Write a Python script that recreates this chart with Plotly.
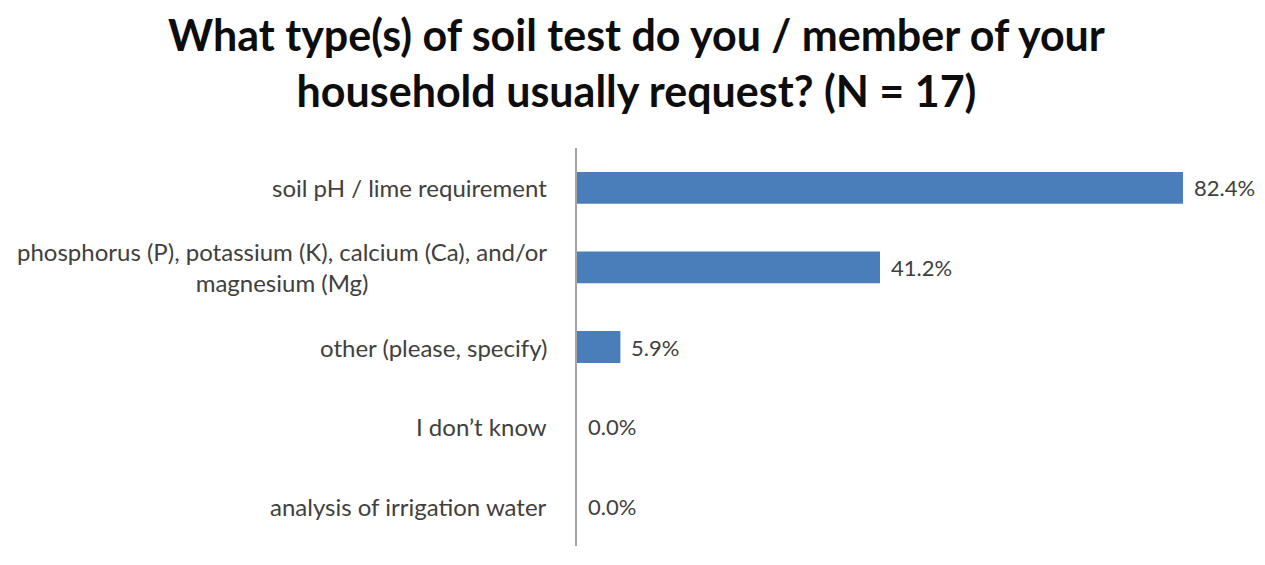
import plotly.graph_objects as go

categories = [
    "soil pH / lime requirement",
    "phosphorus (P), potassium (K), calcium (Ca), and/or<br>magnesium (Mg)",
    "other (please, specify)",
    "I don\u2019t know",
    "analysis of irrigation water",
]
values = [82.4, 41.2, 5.9, 0.0, 0.0]
value_labels = ["82.4%", "41.2%", "5.9%", "0.0%", "0.0%"]
title_text = "What type(s) of soil test do you / member of your<br>household usually request? (N = 17)"

FONT = "Lato"
fig = go.Figure()
fig.add_trace(go.Bar(
    y=categories, x=values, orientation="h",
    marker=dict(color="#4a7ebb", line=dict(width=0)),
    width=0.4,
))

for c in categories:
    fig.add_annotation(
        x=0, xref="paper", y=c, yref="y", xanchor="right", yanchor="middle",
        xshift=-28, text=c, showarrow=False, align="center",
        font=dict(family=FONT, size=24, color="#404040"),
    )

for c, v, t in zip(categories, values, value_labels):
    fig.add_annotation(
        x=v, xref="x", y=c, yref="y", xanchor="left", yanchor="middle",
        xshift=9, text=t, showarrow=False,
        font=dict(family=FONT, size=22, color="#404040"),
    )

fig.update_layout(
    width=1257, height=557,
    paper_bgcolor="white", plot_bgcolor="white",
    margin=dict(l=569, r=0, t=140, b=19),
    showlegend=False,
    title=dict(text=title_text, x=0.5, xanchor="center", y=0.923, yanchor="middle",
               font=dict(family=FONT, size=43, color="#0d0d0d", weight="bold")),
    xaxis=dict(range=[0, 93.55], visible=False),
    yaxis=dict(autorange="reversed", showticklabels=False, showgrid=False,
               showline=True, linecolor="#a6a6a6", linewidth=1.5, ticks=""),
    bargap=0.6,
)
fig.write_html("out.html")
